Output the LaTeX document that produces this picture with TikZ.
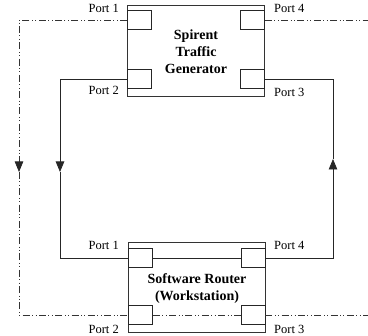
\documentclass[tikz,border=0pt]{standalone}
\usepackage{fontspec}
\setmainfont{Liberation Serif}
\usetikzlibrary{arrows.meta}
\begin{document}
\begin{tikzpicture}[x=1pt,y=-1pt,
  unit/.style={draw=black!80, line width=0.8pt, inner sep=0pt, minimum width=137pt, minimum height=91pt},
  portsq/.style={draw=black!85, line width=0.8pt, inner sep=0pt, minimum width=24pt, minimum height=19pt},
  wire/.style={draw=black!85, line width=0.8pt},
  ddot/.style={draw=black!80, line width=0.7pt, dash pattern=on 7pt off 2.5pt on 0.9pt off 2.5pt on 0.9pt off 2.5pt},
  tip/.style={-{Triangle[width=8.5pt,length=10.5pt]}},
  plabel/.style={font=\fontsize{12.5}{14}\selectfont, inner sep=0pt},
  title/.style={font=\bfseries\fontsize{14}{16.8}\selectfont, align=center, inner sep=0pt}]
\useasboundingbox (0,0) rectangle (368,336);
% units
\node[unit] (gen) at (195.5,50.5) {};
\node[unit, minimum height=90pt] (rtr) at (196.5,287) {};
\node[title] (gentext) at (196,51.5) {Spirent\\Traffic\\Generator};
\node[title] (rtrtext) at (197,288.5) {Software Router\\(Workstation)};
% port squares
\node[portsq] (g1) at (139.5,20) {};
\node[portsq] (g4) at (252.5,20) {};
\node[portsq] (g2) at (139.5,79) {};
\node[portsq] (g3) at (252.5,79) {};
\node[portsq] (r1) at (140.5,258) {};
\node[portsq] (r4) at (253,258) {};
\node[portsq] (r2) at (140.5,315) {};
\node[portsq] (r3) at (253,315) {};
% port labels
\node[plabel, anchor=east] (lg1) at (119,8) {Port 1};
\node[plabel, anchor=east] (lg2) at (119,90) {Port 2};
\node[plabel, anchor=west] (lg4) at (274,8) {Port 4};
\node[plabel, anchor=west] (lg3) at (274,92) {Port 3};
\node[plabel, anchor=east] (lr1) at (119,245) {Port 1};
\node[plabel, anchor=east] (lr2) at (119,329) {Port 2};
\node[plabel, anchor=west] (lr4) at (274,245) {Port 4};
\node[plabel, anchor=west] (lr3) at (274,329) {Port 3};
% solid loop
\coordinate (lt) at (60,79);
\coordinate (lm) at (60,172);
\coordinate (lb) at (60,258);
\coordinate (rt) at (333,79);
\coordinate (rm) at (333,159);
\coordinate (rb) at (333,258);
\draw[wire, tip] (g2.west) -- (lt) -- (lm);
\draw[wire] (lm) -- (lb) -- (r1.west);
\draw[wire] (r1.east) -- (r4.west);
\draw[wire, tip] (r4.east) -- (rb) -- (rm);
\draw[wire] (rm) -- (rt) -- (g3.east);
% dash-dot loop
\coordinate (dt) at (19,20);
\coordinate (dm) at (19,172);
\coordinate (db) at (19,315);
\coordinate (et) at (368,20);
\coordinate (eb) at (368,315);
\draw[ddot] (g1.west) -- (dt) -- (dm);
\draw[wire, tip, line width=0.7pt] ([yshift=6pt]dm) -- (dm);
\draw[ddot] (dm) -- (db) -- (r2.west);
\draw[ddot] (r2.east) -- (r3.west);
\draw[ddot] (r3.east) -- (eb);
\draw[ddot] (g4.east) -- (et);
\end{tikzpicture}
\end{document}
